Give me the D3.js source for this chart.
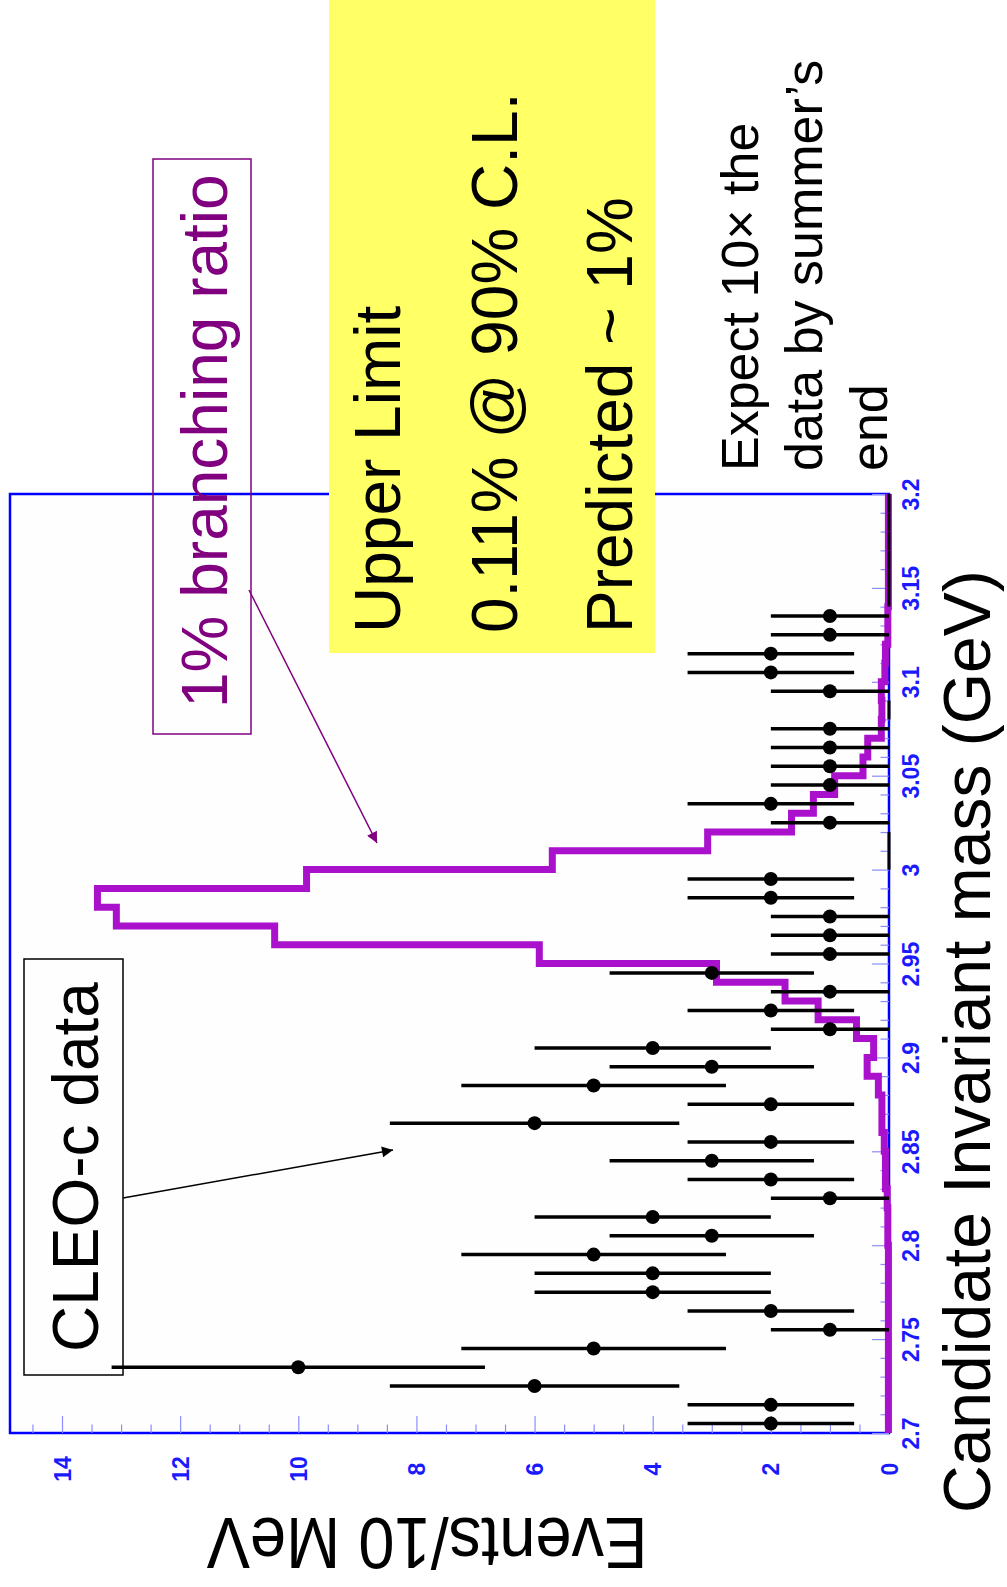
<!DOCTYPE html>
<html><head><meta charset="utf-8">
<script src="https://cdn.jsdelivr.net/npm/d3@7"></script>
<style>body{margin:0;background:#fff}</style>
</head><body>
<svg id="c" width="1007" height="1587" xmlns="http://www.w3.org/2000/svg"></svg>
<script>
// ---- data (mass bins of 10 MeV) ----
const binCenters = [2.705,2.715,2.725,2.735,2.745,2.755,2.765,2.775,2.785,2.795,
  2.805,2.815,2.825,2.835,2.845,2.855,2.865,2.875,2.885,2.895,
  2.905,2.915,2.925,2.935,2.945,2.955,2.965,2.975,2.985,2.995,
  3.005,3.015,3.025,3.035,3.045,3.055,3.065,3.075,3.085,3.095,
  3.105,3.115,3.125,3.135,3.145,3.155,3.165,3.175,3.185,3.195];
const binHalfWidth = 0.005;
const dataCounts = [2,2,6,10,5,1,2,4,4,5,
  3,4,1,2,3,2,6,2,5,3,
  4,1,2,1,3,1,1,1,2,2,
  0,0,1,2,1,1,1,1,0,1,
  2,2,1,1,0,0,0,0,0,0];
const dataErrors = [1.41,1.41,2.45,3.16,2.24,1,1.41,2,2,2.24,
  1.73,2,1,1.41,1.73,1.41,2.45,1.41,2.24,1.73,
  2,1,1.41,1,1.73,1,1,1,1.41,1.41,
  0,0,1,1.41,1,1,1,1,0,1,
  1.41,1.41,1,1,0,0,0,0,0,0];
const predicted = [0.01,0.01,0.01,0.01,0.01,0.01,0.01,0.01,0.01,0.01,
  0.02,0.02,0.03,0.06,0.06,0.08,0.12,0.12,0.18,0.37,
  0.26,0.55,1.2,1.76,2.92,5.92,10.4,13.08,13.4,9.86,
  5.7,3.07,1.65,1.28,0.92,0.44,0.36,0.13,0.12,0.13,
  0.07,0.06,0.02,0.02,0.01,0.01,0.01,0.01,0.01,0.01];
const eventTicks = [0,2,4,6,8,10,12,14];
const eventTickLabels = ["0","2","4","6","8","10","12","14"];
const massTicks = [2.7,2.75,2.8,2.85,2.9,2.95,3.0,3.05,3.1,3.15,3.2];
const massTickLabels = ["2.7","2.75","2.8","2.85","2.9","2.95","3","3.05","3.1","3.15","3.2"];

const svg = d3.select('#c');
const FONT = "'Liberation Sans', Arial, Helvetica, sans-serif";

// scales: events run right->left, mass runs bottom->top (rotated plot)
const ev = d3.scaleLinear().domain([0, 14]).range([889, 62]);
const m = d3.scaleLinear().domain([2.7, 3.2]).range([1433, 494]);
const evMax = ev.invert(10);

// frame
svg.append('rect').attr('x', ev(evMax)).attr('y', m(3.2))
  .attr('width', ev(0) - ev(evMax)).attr('height', m(2.7) - m(3.2))
  .attr('fill', '#fefefe').attr('stroke', '#0000ff').attr('stroke-width', 2.5);

// events axis (bottom)
const evMinor = d3.range(0.5, evMax, 0.5).filter(v => Math.abs(v % 2) > 1e-6);
const gxm = svg.append('g').attr('transform', `translate(0,${m(2.7)})`)
  .call(d3.axisBottom(ev).tickValues(evMinor).tickSize(-8.5).tickFormat(''));
gxm.select('.domain').remove();
gxm.selectAll('.tick line').attr('stroke', '#8c8cff').attr('stroke-width', 1.2);
const gx = svg.append('g').attr('transform', `translate(0,${m(2.7)})`)
  .call(d3.axisBottom(ev).tickValues(eventTicks).tickSize(-17)
    .tickFormat((d, i) => eventTickLabels[i]));
gx.select('.domain').remove();
gx.selectAll('.tick line').attr('stroke', '#8c8cff').attr('stroke-width', 1.2);
gx.selectAll('.tick text').attr('y', null).attr('dy', null)
  .attr('transform', 'translate(0,36) rotate(-90)')
  .attr('text-anchor', 'middle').attr('dominant-baseline', 'central')
  .attr('fill', '#1a1aff').style('font-family', FONT).style('font-size', '23px').style('font-weight', 'bold');

// mass axis (right)
const mMinor = d3.range(2.71, 3.2, 0.01).filter(v => Math.abs(Math.round(v * 100) % 5) !== 0);
const gym = svg.append('g').attr('transform', `translate(${ev(0)},0)`)
  .call(d3.axisRight(m).tickValues(mMinor).tickSize(-8.5).tickFormat(''));
gym.select('.domain').remove();
gym.selectAll('.tick line').attr('stroke', '#8c8cff').attr('stroke-width', 1.2);
const gy = svg.append('g').attr('transform', `translate(${ev(0)},0)`)
  .call(d3.axisRight(m).tickValues(massTicks).tickSize(-17)
    .tickFormat((d, i) => massTickLabels[i]));
gy.select('.domain').remove();
gy.selectAll('.tick line').attr('stroke', '#8c8cff').attr('stroke-width', 1.2);
gy.selectAll('.tick text').attr('x', null).attr('dy', null)
  .attr('transform', 'translate(22,0) rotate(-90)')
  .attr('text-anchor', 'middle').attr('dominant-baseline', 'central')
  .attr('fill', '#1a1aff').style('font-family', FONT).style('font-size', '23px').style('font-weight', 'bold');

// predicted histogram (1% branching ratio)
const histPts = [];
predicted.forEach((v, i) => {
  histPts.push([ev(v), m(binCenters[i] - binHalfWidth)]);
  histPts.push([ev(v), m(binCenters[i] + binHalfWidth)]);
});
svg.append('path').attr('d', d3.line()(histPts))
  .attr('fill', 'none').attr('stroke', '#aa11cc').attr('stroke-width', 7)
  .attr('stroke-linejoin', 'miter');

// data points
const pts = binCenters.map((c, i) => ({c, n: dataCounts[i], e: dataErrors[i]}));
const filled = pts.filter(d => d.n > 0);
svg.append('g').selectAll('line').data(filled).join('line')
  .attr('x1', d => ev(d.n - d.e)).attr('x2', d => ev(d.n + d.e))
  .attr('y1', d => m(d.c)).attr('y2', d => m(d.c))
  .attr('stroke', '#000').attr('stroke-width', 3.5);
svg.append('g').selectAll('circle').data(filled).join('circle')
  .attr('cx', d => ev(d.n)).attr('cy', d => m(d.c)).attr('r', 7).attr('fill', '#000');
// empty bins drawn at zero
svg.append('g').selectAll('line').data(pts.filter(d => d.n === 0)).join('line')
  .attr('x1', ev(0)).attr('x2', ev(0))
  .attr('y1', d => m(d.c - binHalfWidth)).attr('y2', d => m(d.c + binHalfWidth))
  .attr('stroke', '#000').attr('stroke-width', 3);

// ---- annotations ----
const defs = svg.append('defs');
function marker(id, color) {
  defs.append('marker').attr('id', id).attr('viewBox', '0 0 10 10')
    .attr('refX', 10).attr('refY', 5).attr('markerWidth', 16).attr('markerHeight', 11)
    .attr('markerUnits', 'userSpaceOnUse').attr('orient', 'auto')
    .append('path').attr('d', 'M0,0 L10,5 L0,10 z').attr('fill', color);
}
marker('ap', '#800080');
marker('ab', '#000');

function vtext(x, y, str, size, color) {
  return svg.append('text').attr('transform', `translate(${x},${y}) rotate(-90)`)
    .attr('text-anchor', 'start').style('font-family', FONT)
    .style('font-size', size + 'px').attr('fill', color).text(str);
}

// yellow box
svg.append('rect').attr('x', 329).attr('y', 0).attr('width', 326).attr('height', 653).attr('fill', '#ffff66');
vtext(400, 633, 'Upper Limit', 64, '#000');
vtext(517, 633, '0.11% @ 90% C.L.', 64, '#000');
vtext(632, 633, 'Predicted ~ 1%', 64, '#000');

// 1% branching ratio box
svg.append('rect').attr('x', 153).attr('y', 159).attr('width', 98).attr('height', 575)
  .attr('fill', 'none').attr('stroke', '#800080').attr('stroke-width', 1.5);
vtext(227, 708, '1% branching ratio', 64, '#800080');
svg.append('line').attr('x1', 249).attr('y1', 590).attr('x2', 377).attr('y2', 843)
  .attr('stroke', '#800080').attr('stroke-width', 1.5).attr('marker-end', 'url(#ap)');

// CLEO-c data box
svg.append('rect').attr('x', 24).attr('y', 959).attr('width', 99).attr('height', 416)
  .attr('fill', 'none').attr('stroke', '#000').attr('stroke-width', 1.5);
vtext(98, 1352, 'CLEO-c data', 64, '#000');
svg.append('line').attr('x1', 123).attr('y1', 1198).attr('x2', 393).attr('y2', 1150)
  .attr('stroke', '#000').attr('stroke-width', 1.5).attr('marker-end', 'url(#ab)');

// expectation note
vtext(758, 471, 'Expect 10× the', 52, '#000');
vtext(822, 471, 'data by summer’s', 52, '#000');
vtext(887, 471, 'end', 52, '#000');

// axis titles
vtext(990, 1513, 'Candidate Invariant mass (GeV)', 66, '#000');
svg.append('text').attr('transform', 'translate(427,1518) rotate(180)')
  .attr('text-anchor', 'middle').style('font-family', FONT).style('font-size', '72px')
  .attr('textLength', 441).attr('lengthAdjust', 'spacingAndGlyphs')
  .attr('fill', '#000').text('Events/10 MeV');
</script>
</body></html>
